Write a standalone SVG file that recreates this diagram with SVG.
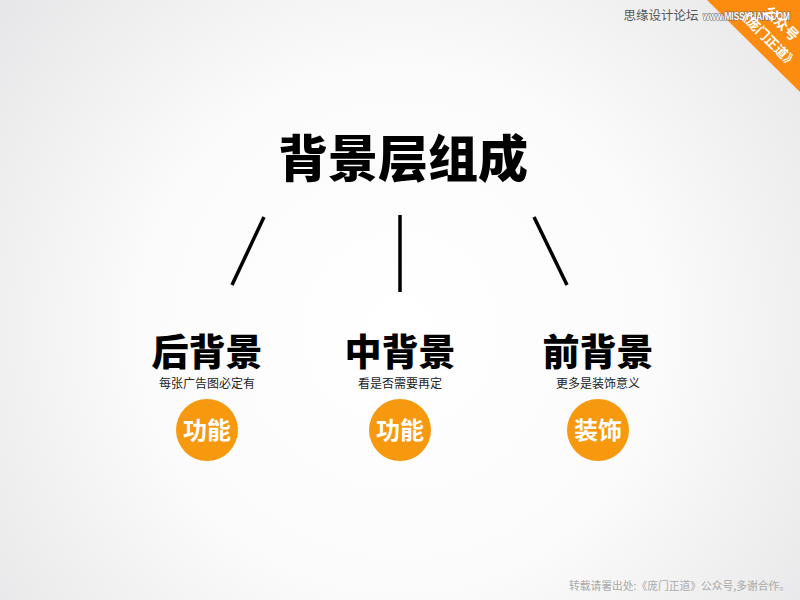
<svg xmlns="http://www.w3.org/2000/svg" width="800" height="600" viewBox="0 0 800 600">
<defs>
<radialGradient id="bg" cx="400" cy="330" r="520" gradientUnits="userSpaceOnUse">
<stop offset="0" stop-color="#ffffff"/>
<stop offset="0.5" stop-color="#fbfbfb"/>
<stop offset="1" stop-color="#e6e6e8"/>
</radialGradient>
<style>
.cjk{font-family:"Noto Sans CJK SC","Noto Sans",sans-serif}
.title{font-size:50px;font-weight:900;fill:#000}
.head{font-size:37px;font-weight:900;fill:#000}
.sub{font-size:12px;fill:#222}
.badge{fill:#f7990f}
.btxt{font-size:24px;font-weight:700;fill:#fff}
.ln{stroke:#000;stroke-width:3.5;stroke-linecap:butt}
</style>
</defs>
<rect width="800" height="600" fill="url(#bg)"/>
<polygon points="707,0 800,0 800,92" fill="#fb8c10"/>
<text x="661" y="20" class="cjk" font-size="12.5" fill="#555" text-anchor="middle">思缘设计论坛</text>
<text x="703" y="20" font-family="'Liberation Sans',sans-serif" font-size="10" font-weight="700" fill="#fff" stroke="#666" stroke-width="1.2" paint-order="stroke" textLength="87" lengthAdjust="spacingAndGlyphs">www.MISSYUAN.COM</text>
<text class="cjk" font-size="14" font-weight="700" fill="#fff" text-anchor="middle" transform="translate(778,27) rotate(45)">公众号</text>
<text class="cjk" font-size="13" font-weight="700" fill="#fff" text-anchor="middle" transform="translate(764,41) rotate(45)">《庞门正道》</text>
<g id="title"><text x="403" y="177" class="cjk title" text-anchor="middle">背景层组成</text></g>
<g id="connectors">
<line class="ln" x1="264" y1="217" x2="232" y2="285"/>
<line class="ln" x1="400" y1="215" x2="400" y2="292"/>
<line class="ln" x1="534" y1="217" x2="567" y2="285"/>
</g>
<g id="back">
<text x="207" y="366" class="cjk head" text-anchor="middle">后背景</text>
<text x="207" y="388" class="cjk sub" text-anchor="middle">每张广告图必定有</text>
<circle cx="207" cy="430" r="31" class="badge"/>
<text x="207" y="439" class="cjk btxt" text-anchor="middle">功能</text>
</g>
<g id="middle">
<text x="400" y="366" class="cjk head" text-anchor="middle">中背景</text>
<text x="400" y="388" class="cjk sub" text-anchor="middle">看是否需要再定</text>
<circle cx="400" cy="430" r="31" class="badge"/>
<text x="400" y="439" class="cjk btxt" text-anchor="middle">功能</text>
</g>
<g id="front">
<text x="598" y="366" class="cjk head" text-anchor="middle">前背景</text>
<text x="598" y="388" class="cjk sub" text-anchor="middle">更多是装饰意义</text>
<circle cx="598" cy="430" r="31" class="badge"/>
<text x="598" y="439" class="cjk btxt" text-anchor="middle">装饰</text>
</g>
<text x="790" y="590" class="cjk" font-size="11" fill="#aaa" text-anchor="end" textLength="221" lengthAdjust="spacingAndGlyphs">转载请署出处:《庞门正道》公众号,多谢合作。</text>
</svg>
